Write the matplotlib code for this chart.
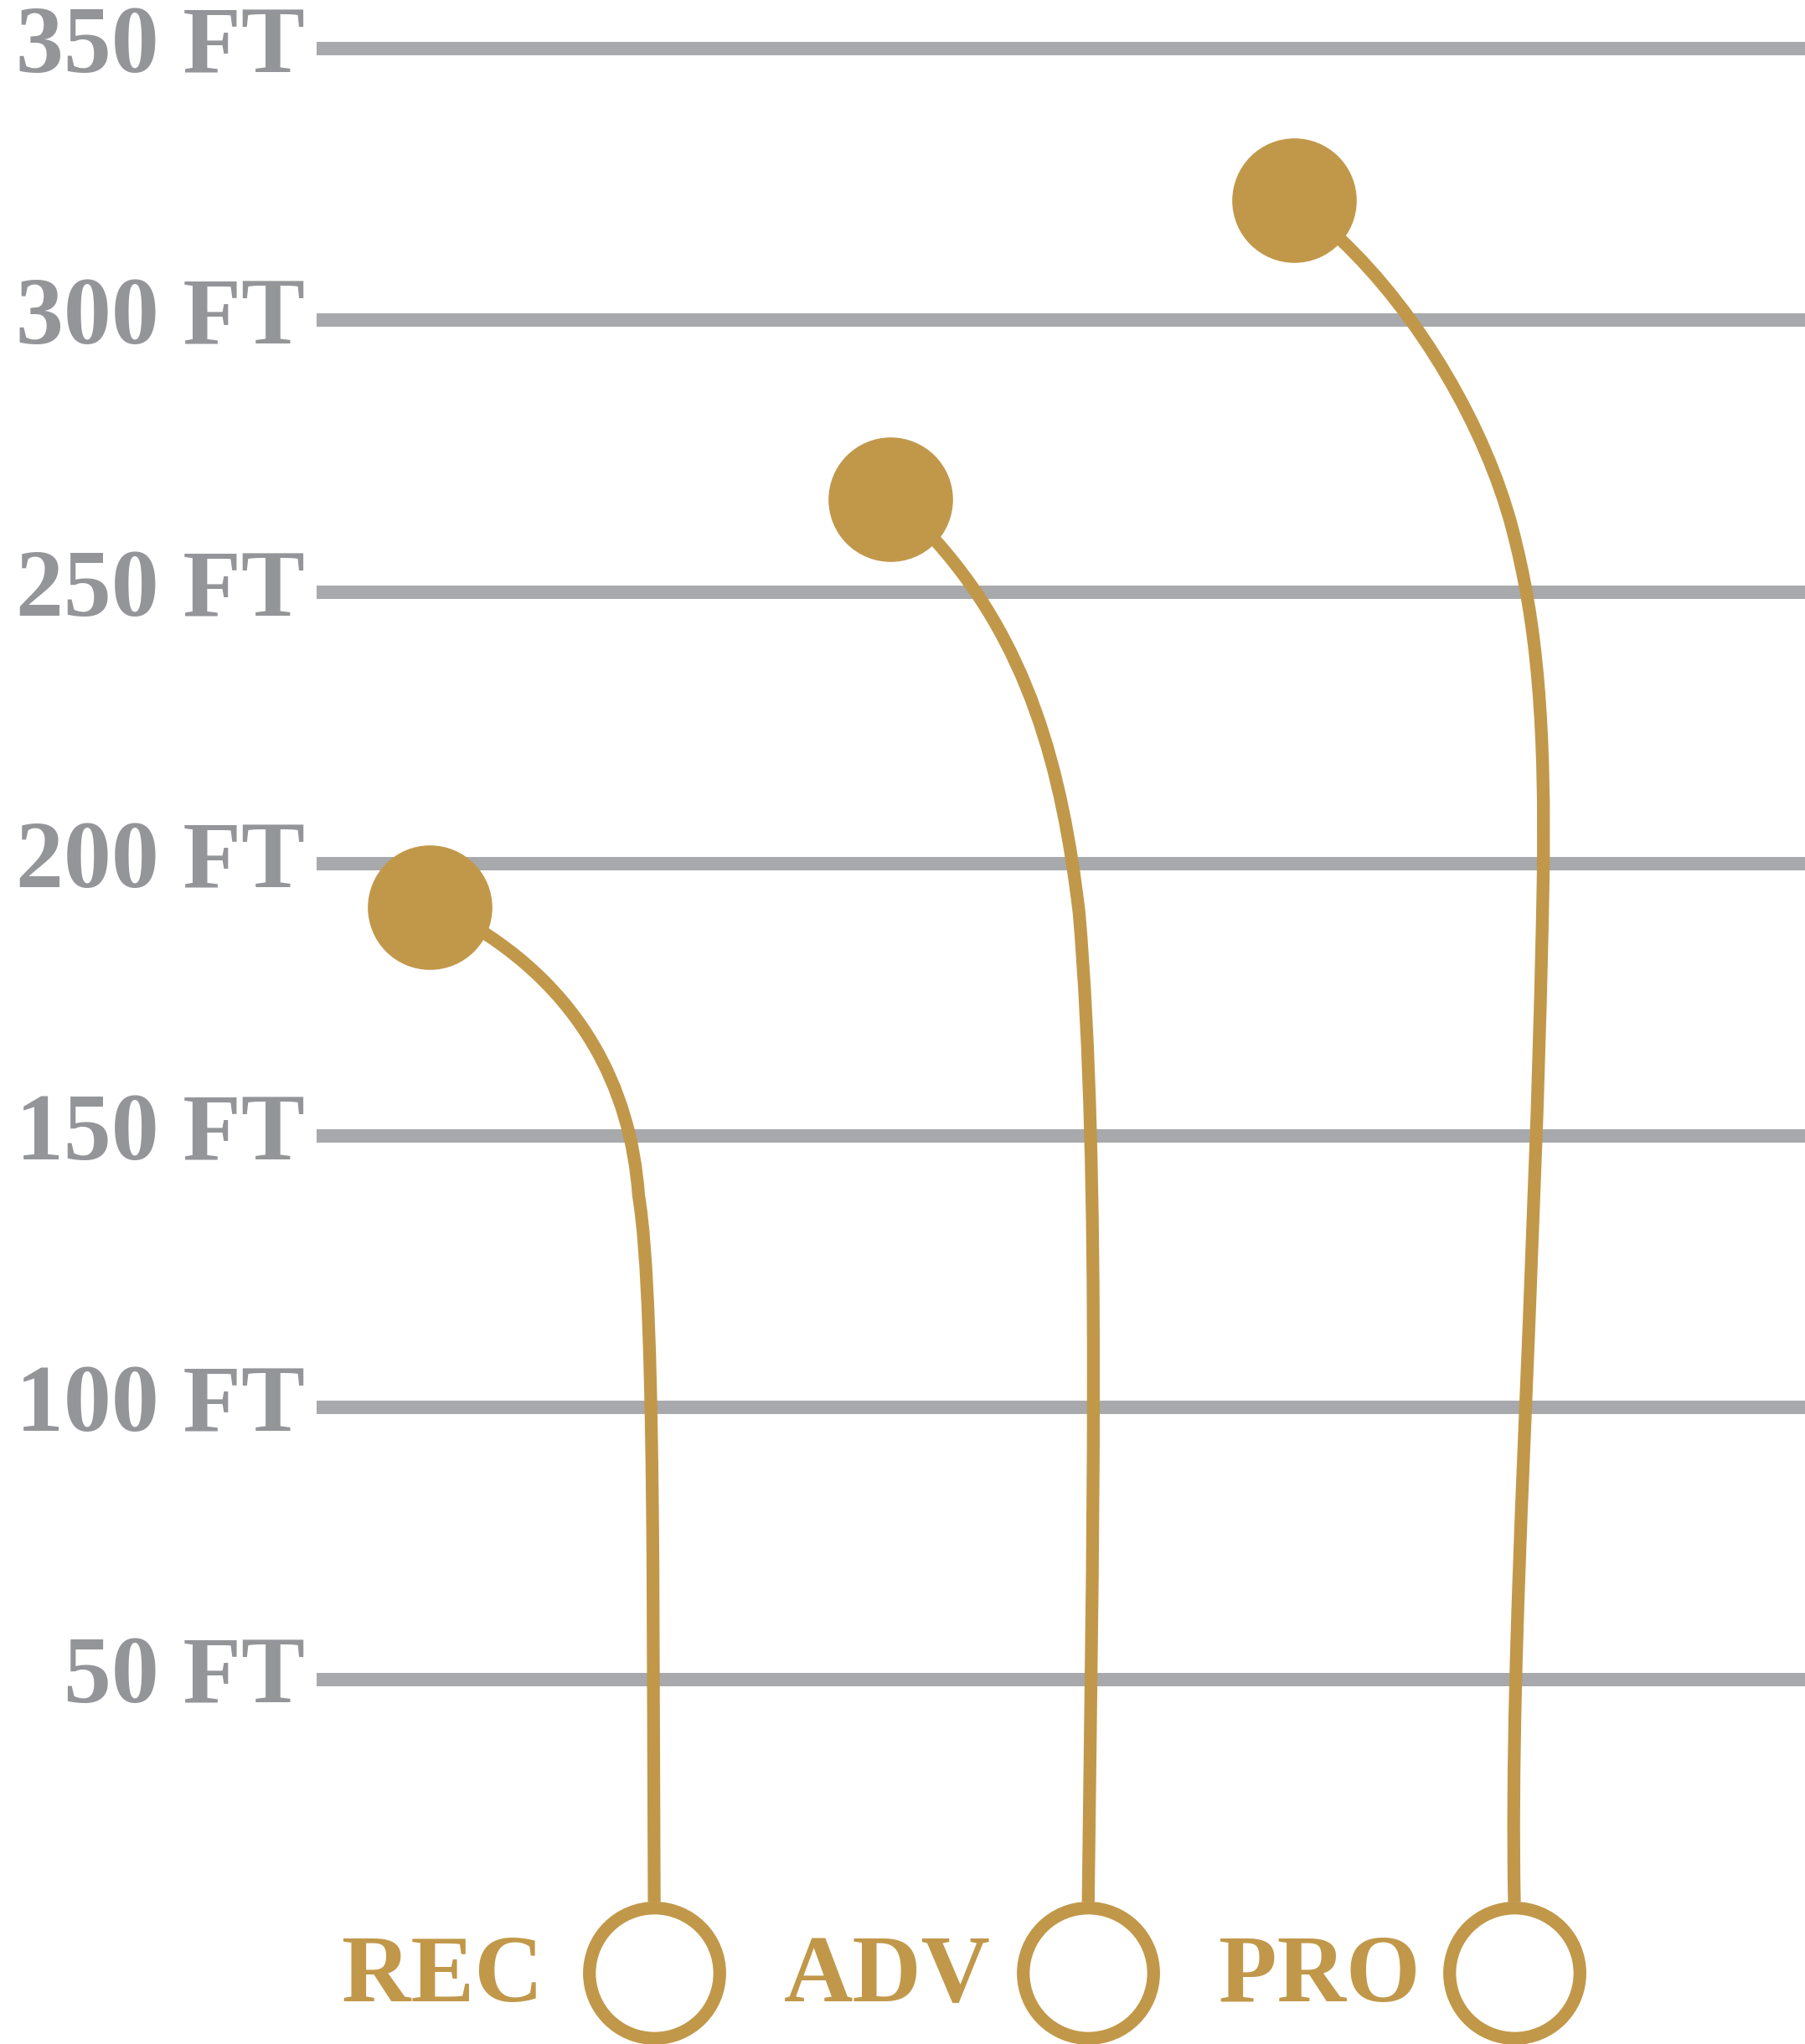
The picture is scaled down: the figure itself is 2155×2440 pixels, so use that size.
import numpy as np
import matplotlib
matplotlib.use("Agg")
import matplotlib.pyplot as plt
from matplotlib.path import Path
from matplotlib.patches import PathPatch

# depth levels shown as gridlines (ft)
depth_levels = [50, 100, 150, 200, 250, 300, 350]
depth_labels = ["50 FT", "100 FT", "150 FT", "200 FT", "250 FT", "300 FT", "350 FT"]

# certification levels and their max depth (ft)
levels = ["REC", "ADV", "PRO"]
max_depth = [192, 267, 322]
start_depth = [-4, -4, -4]

# connector shapes (x in layout units, y in ft), cubic bezier control points
rec_x = [360, 445, 484, 490, 497, 500, 501, 502]
rec_y = [189, 177, 159, 139, 129, 107, 71, 9]
adv_x = [712, 790, 815, 828, 845, 838, 835]
adv_y = [261, 241, 217, 191, 143, 71, 9]
pro_x = [1028, 1090, 1140, 1160, 1180, 1186, 1184, 1178, 1158, 1162]
pro_y = [315, 301, 280, 262, 244, 225, 196, 119, 59, 9]

gold = "#c1984a"
grey_txt = "#939598"
grey_line = "#a7a9ac"

# layout
dot_x = [330, 683, 993]
ring_x = [502, 835, 1162]
label_off = [85, 75, 72]

fig = plt.figure(figsize=(21.55, 24.40), dpi=100)
ax = fig.add_axes([0, 0, 1, 1])
ax.set_xlim(0, 1385)
ax.set_ylim(-17.1, 358.9)
ax.axis("off")

font = dict(family=["Liberation Serif", "DejaVu Serif"], weight="bold", fontsize=82)

for v, lab in zip(depth_levels, depth_labels):
    ax.plot([243, 1385], [v, v], color=grey_line, lw=11.5, solid_capstyle="butt", zorder=1)
    ax.text(234, v - 4.3, lab, color=grey_txt, ha="right", va="baseline", **font)


def bez(xs, ys):
    codes = [Path.MOVETO] + [Path.CURVE4] * (len(xs) - 1)
    return Path(np.column_stack([xs, ys]), codes)


# REC: two bezier segments then straight drop
rec_path = Path(
    np.column_stack([rec_x, rec_y]),
    [Path.MOVETO, Path.CURVE4, Path.CURVE4, Path.CURVE4,
     Path.CURVE4, Path.CURVE4, Path.CURVE4, Path.LINETO])
adv_path = bez(adv_x, adv_y)
pro_path = bez(pro_x, pro_y)

for p in [rec_path, adv_path, pro_path]:
    ax.add_patch(PathPatch(p, fill=False, edgecolor=gold, lw=11, zorder=2,
                           capstyle="butt"))

ax.plot(dot_x, max_depth, "o", ms=107, color=gold, mec="none", zorder=3)
ax.plot(ring_x, start_depth, "o", ms=112, mfc="white", mec=gold, mew=11, zorder=3)

for x, off, lab in zip(ring_x, label_off, levels):
    ax.text(x - off, -9.2, lab, color=gold, ha="right", va="baseline", **font)

fig.savefig("out.png", dpi=100, facecolor="white")
